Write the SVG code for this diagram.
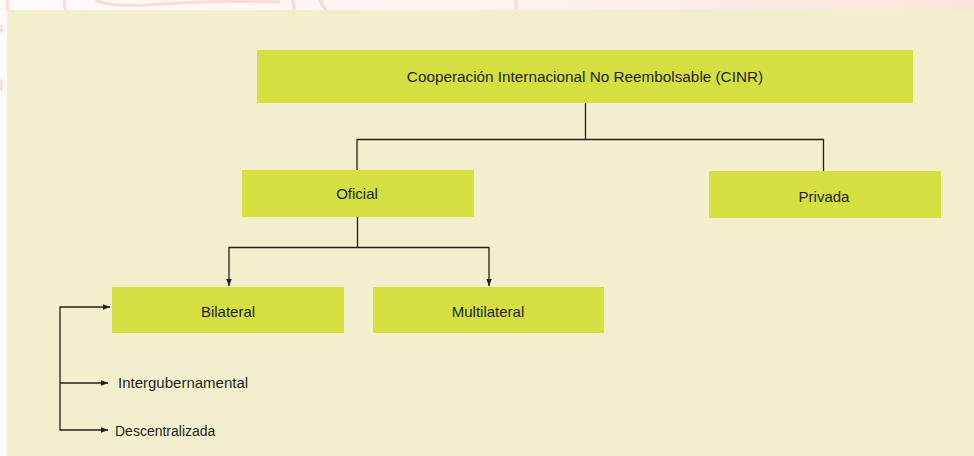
<svg xmlns="http://www.w3.org/2000/svg" width="974" height="456" viewBox="0 0 974 456">
<defs>
<linearGradient id="bgGrad" x1="0" y1="0" x2="1" y2="0">
<stop offset="0" stop-color="#fffafa"/>
<stop offset="0.5" stop-color="#fdf3ef"/>
<stop offset="1" stop-color="#fce4da"/>
</linearGradient>
<marker id="arr" viewBox="0 0 10 10" refX="10" refY="5" markerWidth="8" markerHeight="7" markerUnits="userSpaceOnUse" orient="auto-start-reverse">
<path d="M0,1 L10,5 L0,9 z" fill="#231f20"/>
</marker>
<style>
.box{fill:#d5df40;}
.lbl{font-family:"Liberation Sans",Arial,sans-serif;font-size:15px;fill:#231f20;text-anchor:middle;}
.sub{font-family:"Liberation Sans",Arial,sans-serif;fill:#231f20;}
.ln{fill:none;stroke:#231f20;stroke-width:1.3;}
.deco{fill:none;stroke:#f7c9b8;stroke-width:3;opacity:0.6;}
</style>
</defs>
<rect x="0" y="0" width="974" height="456" fill="url(#bgGrad)"/>
<g id="decoration">
<path class="deco" d="M8,0 Q6,5 8,10"/>
<path class="deco" d="M65,0 Q63,5 66,10"/>
<path class="deco" d="M95,0 Q110,8 160,4 Q220,0 280,2"/>
<path class="deco" d="M292,0 Q295,5 294,10"/>
<path class="deco" d="M320,0 Q322,5 326,10"/>
<path class="deco" d="M515,0 Q517,5 516,10"/>
<path class="deco" d="M0,25 Q4,28 0,32"/>
<path class="deco" d="M0,80 Q4,85 0,90"/>
</g>
<rect x="7" y="10" width="967" height="446" fill="#f3efcd"/>
<g id="connectors">
<path class="ln" d="M585.5,102 V139.5 H357 V170"/>
<path class="ln" d="M585.5,139.5 H823.5 V171"/>
<path class="ln" d="M357.5,217 V247.5"/>
<path class="ln" d="M229,286 V247.5 H489 V286" marker-start="url(#arr)" marker-end="url(#arr)"/>
<path class="ln" d="M110,307 H60 V430 H108" marker-start="url(#arr)" marker-end="url(#arr)"/>
<path class="ln" d="M60,383 H108" marker-end="url(#arr)"/>
</g>
<g id="node-cinr">
<rect class="box" x="257" y="50" width="656" height="53"/>
<text class="lbl" x="585" y="82" style="font-size:15.3px">Cooperación Internacional No Reembolsable (CINR)</text>
</g>
<g id="node-oficial">
<rect class="box" x="242" y="170" width="232" height="47"/>
<text class="lbl" x="357" y="199">Oficial</text>
</g>
<g id="node-privada">
<rect class="box" x="709" y="171" width="232" height="47"/>
<text class="lbl" x="824" y="202">Privada</text>
</g>
<g id="node-bilateral">
<rect class="box" x="112" y="287" width="232" height="46"/>
<text class="lbl" x="228" y="317">Bilateral</text>
</g>
<g id="node-multilateral">
<rect class="box" x="373" y="287" width="231" height="46"/>
<text class="lbl" x="488" y="317">Multilateral</text>
</g>
<g id="node-intergubernamental">
<text class="sub" x="118" y="388" style="font-size:15px">Intergubernamental</text>
</g>
<g id="node-descentralizada">
<text class="sub" x="115" y="436" style="font-size:14px">Descentralizada</text>
</g>
</svg>
